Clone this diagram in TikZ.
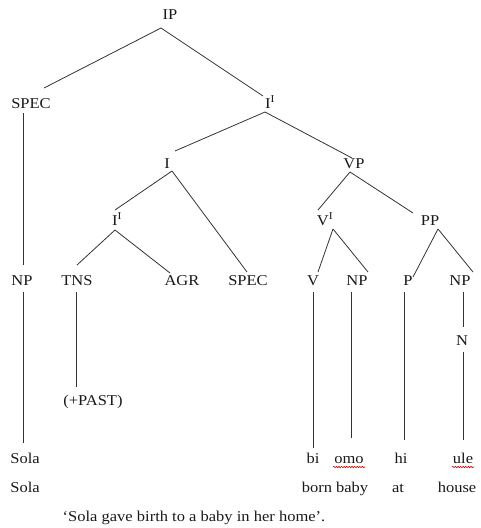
\documentclass[tikz,border=0pt]{standalone}
\usepackage{fontspec}
\setmainfont[FakeStretch=1.1]{Liberation Serif}
\usetikzlibrary{decorations.pathmorphing}
\tikzset{
  lbl/.style={anchor=base, inner sep=0pt, text height=10pt, text depth=3pt,
    font=\fontsize{15pt}{18pt}\selectfont, text=black!90},
  branch/.style={draw=black!80, line width=0.8pt},
  squiggle/.style={draw=red!80!black, line width=0.6pt,
    decorate, decoration={snake, amplitude=0.7pt, segment length=2.6pt}}
}
\begin{document}
\begin{tikzpicture}[x=1pt, y=-1pt]
\useasboundingbox (0,0) rectangle (481,528);

% tree labels
\node[lbl] (IP)    at (170,19)  {IP};
\node[lbl] (SPECa) at (31,108)  {SPEC};
\node[lbl] (Ibar)  at (270,108) {I\textsuperscript{I}};
\node[lbl] (I)     at (167,168) {I};
\node[lbl] (VP)    at (354,168) {VP};
\node[lbl] (Ibarb) at (117,225) {I\textsuperscript{I}};
\node[lbl] (Vbar)  at (325,225) {V\textsuperscript{I}};
\node[lbl] (PP)    at (430,225) {PP};
\node[lbl] (NPa)   at (22,285)  {NP};
\node[lbl] (TNS)   at (77,285)  {TNS};
\node[lbl] (AGR)   at (182,285) {AGR};
\node[lbl] (SPECb) at (248,285) {SPEC};
\node[lbl] (V)     at (313,285) {V};
\node[lbl] (NPb)   at (357,285) {NP};
\node[lbl] (P)     at (408,285) {P};
\node[lbl] (NPc)   at (460,285) {NP};
\node[lbl] (N)     at (462,345) {N};
\node[lbl] (PAST)  at (93,405)  {(+PAST)};

% words and glosses
\node[lbl] (Sola)  at (25,463)  {Sola};
\node[lbl] (bi)    at (313,463) {bi};
\node[lbl] (omo)   at (349,463) {omo};
\node[lbl] (hi)    at (401,463) {hi};
\node[lbl] (ule)   at (463,463) {ule};
\node[lbl] (SolaG) at (25,492)  {Sola};
\node[lbl] (born)  at (335,492) {born baby};
\node[lbl] (at)    at (398,492) {at};
\node[lbl] (house) at (457,492) {house};
\node[lbl] (trans) at (194,521) {`Sola gave birth to a baby in her home'.};

% branches
\draw[branch] ([shift={(-9,9)}]IP.base) -- ([shift={(13,-20)}]SPECa.base);
\draw[branch] ([shift={(-9,9)}]IP.base) -- ([shift={(-7,-12)}]Ibar.base);
\draw[branch] ([shift={(-5,4)}]Ibar.base) -- ([shift={(8,-17)}]I.base);
\draw[branch] ([shift={(-5,4)}]Ibar.base) -- ([shift={(-2,-10)}]VP.base);
\draw[branch] ([shift={(5,3)}]I.base) -- ([shift={(-2,-15)}]Ibarb.base);
\draw[branch] ([shift={(5,3)}]I.base) -- ([shift={(-1,-13)}]SPECb.base);
\draw[branch] ([shift={(-4,4)}]VP.base) -- ([shift={(-7,-15)}]Vbar.base);
\draw[branch] ([shift={(-4,4)}]VP.base) -- ([shift={(-17,-12)}]PP.base);
\draw[branch] ([shift={(-2,5)}]Ibarb.base) -- ([shift={(0,-20)}]TNS.base);
\draw[branch] ([shift={(-2,5)}]Ibarb.base) -- ([shift={(-12,-12)}]AGR.base);
\draw[branch] ([shift={(8,4)}]Vbar.base) -- ([shift={(5,-13)}]V.base);
\draw[branch] ([shift={(8,4)}]Vbar.base) -- ([shift={(11,-13)}]NPb.base);
\draw[branch] ([shift={(8,4)}]PP.base) -- ([shift={(5,-8)}]P.base);
\draw[branch] ([shift={(8,4)}]PP.base) -- ([shift={(13,-13)}]NPc.base);

% vertical lines
\draw[branch] ([shift={(-8,5)}]SPECa.base) -- ([shift={(1,-20)}]NPa.base);
\draw[branch] ([shift={(1,7)}]NPa.base) -- ([shift={(-2,-20)}]Sola.base);
\draw[branch] ([shift={(-1,7)}]TNS.base) -- ([shift={(-17,-18)}]PAST.base);
\draw[branch] ([shift={(0,7)}]V.base) -- ([shift={(0,-15)}]bi.base);
\draw[branch] ([shift={(-6,7)}]NPb.base) -- ([shift={(2,-25)}]omo.base);
\draw[branch] ([shift={(-4,7)}]P.base) -- ([shift={(3,-23)}]hi.base);
\draw[branch] ([shift={(3,7)}]NPc.base) -- ([shift={(1,-18)}]N.base);
\draw[branch] ([shift={(1,7)}]N.base) -- ([shift={(0,-23)}]ule.base);

% spell-check underlines
\draw[squiggle] ([shift={(-16,4)}]omo.base) -- ([shift={(16,4)}]omo.base);
\draw[squiggle] ([shift={(-11,4)}]ule.base) -- ([shift={(11,4)}]ule.base);
\end{tikzpicture}
\end{document}
